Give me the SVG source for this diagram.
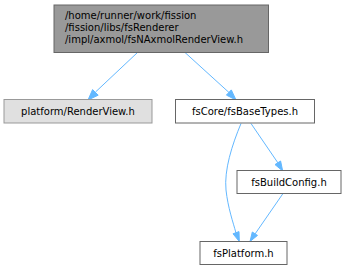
<svg xmlns="http://www.w3.org/2000/svg" width="347" height="269" viewBox="0 0 347 269">
<style>
text{font-family:"DejaVu Sans",sans-serif;font-size:10px;fill:#000}
.n{fill:#fff;stroke:#666;stroke-width:1}
.e{fill:none;stroke:#63b8ff;stroke-width:1}
.a{fill:#63b8ff;stroke:#63b8ff;stroke-width:1}
</style>
<rect width="347" height="269" fill="#fff"/>
<g id="connectors">
<path class="e" d="M137.5,52.5 L95.5,92"/>
<polygon class="a" points="92.6,89.6 88,100 98.2,95.2"/>
<path class="e" d="M185,52.5 L229,92.5"/>
<polygon class="a" points="226.4,95.1 236,100 231.3,89.9"/>
<path class="e" d="M251,123.5 L278,163"/>
<polygon class="a" points="275,164.6 282.7,171 280.6,161"/>
<path class="e" d="M241,123.5 C232,145 224,170 226,190 C228,208 233,222 236,233"/>
<polygon class="a" points="233,233.8 239.3,241.5 239,231.6"/>
<path class="e" d="M283,193.5 L255,234"/>
<polygon class="a" points="252.3,232 250,241.5 257.5,235.4"/>
</g>
<g id="node1">
<rect x="54" y="5" width="214.5" height="47.5" fill="#999" stroke="#666"/>
<text x="65" y="19">/home/runner/work/fission</text>
<text x="65" y="31">/fission/libs/fsRenderer</text>
<text x="65" y="43">/impl/axmol/fsNAxmolRenderView.h</text>
</g>
<g id="node2">
<rect x="4" y="99.5" width="148" height="23.5" fill="#e0e0e0" stroke="#999"/>
<text x="78" y="115" text-anchor="middle">platform/RenderView.h</text>
</g>
<g id="node3">
<rect class="n" x="175.5" y="99.5" width="139" height="23.5"/>
<text x="245" y="115" text-anchor="middle">fsCore/fsBaseTypes.h</text>
</g>
<g id="node4">
<rect class="n" x="237" y="170.5" width="104" height="23"/>
<text x="289" y="186" text-anchor="middle">fsBuildConfig.h</text>
</g>
<g id="node5">
<rect class="n" x="200" y="241.5" width="87" height="23"/>
<text x="243.5" y="257" text-anchor="middle">fsPlatform.h</text>
</g>
</svg>
